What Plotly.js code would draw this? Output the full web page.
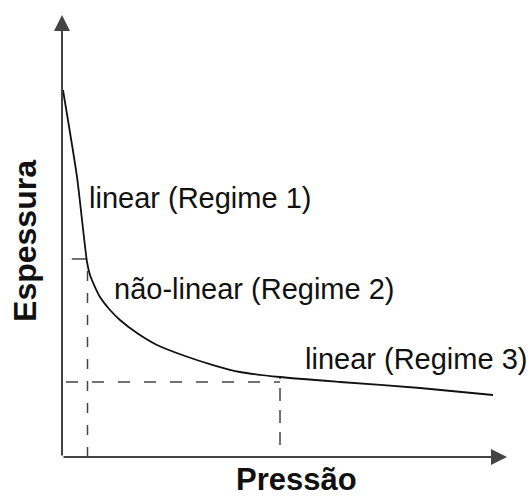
<!DOCTYPE html>
<html>
<head>
<meta charset="utf-8">
<script src="https://cdn.plot.ly/plotly-3.0.1.min.js"></script>
<style>html,body{margin:0;padding:0;background:#fff;}#chart{width:532px;height:496px;}</style>
</head>
<body>
<div id="chart"></div>
<script>
// Curve: pressure (x, 0-100) vs thickness (y, 0-100)
const pressao = [0.22, 3.37, 5.62, 6.29, 7.42, 8.54, 10.79, 13.03, 16.85, 21.35, 27.64, 33.93, 40.0, 48.99, 62.47, 80.45, 96.85];
const espessura = [83.03, 63.35, 44.12, 41.18, 38.46, 36.20, 33.26, 31.00, 28.05, 25.34, 22.85, 20.81, 19.23, 18.10, 16.97, 15.61, 14.03];

// Guide lines (transition points)
const guide1X = [5.73, 5.73];
const guide1Y = [0, 43];
const guide1hX = [2.2, 5.4];
const guide1hY = [44.8, 44.8];
const guide2X = [48.99, 48.99];
const guide2Y = [2.7, 17.9];
const guide2hX = [0.9, 48.99];
const guide2hY = [16.97, 16.97];

const regimeLabels = ["linear (Regime 1)", "não-linear (Regime 2)", "linear (Regime 3)"];
const regimeX = [5.6, 11.3, 54.1];
const regimeY = [58.6, 38.0, 22.2];

const xTitle = "Pressão";
const yTitle = "Espessura";

const dashCol = "#444";
const traces = [
  {x: guide1X, y: guide1Y, mode: "lines", line: {color: dashCol, width: 1.5, dash: "10px,12px"}, hoverinfo: "skip"},
  {x: guide1hX, y: guide1hY, mode: "lines", line: {color: dashCol, width: 1.5}, hoverinfo: "skip"},
  {x: guide2X, y: guide2Y, mode: "lines", line: {color: dashCol, width: 1.5, dash: "13px,9px"}, hoverinfo: "skip"},
  {x: guide2hX, y: guide2hY, mode: "lines", line: {color: dashCol, width: 1.5, dash: "12px,14px"}, hoverinfo: "skip"},
  {x: pressao, y: espessura, mode: "lines", line: {color: "#111", width: 1.8, shape: "spline", smoothing: 0.6}, hoverinfo: "skip"}
];

const font = {family: "Liberation Sans, Arial, sans-serif", color: "#111"};
const annotations = [];
regimeLabels.forEach((t, i) => {
  annotations.push({x: regimeX[i], y: regimeY[i], xref: "x", yref: "y", text: t, showarrow: false,
    xanchor: "left", yanchor: "middle", font: Object.assign({}, font, {size: 29})});
});
// axes with arrows
annotations.push({x: 0, y: 100, ax: 0, ay: 0, xref: "x", yref: "y", axref: "x", ayref: "y", text: "",
  showarrow: true, arrowhead: 2, arrowsize: 1.6, arrowwidth: 2, arrowcolor: "#444", standoff: 0, startstandoff: 0});
annotations.push({x: 100, y: 0, ax: 0, ay: 0, xref: "x", yref: "y", axref: "x", ayref: "y", text: "",
  showarrow: true, arrowhead: 2, arrowsize: 1.6, arrowwidth: 2, arrowcolor: "#444", standoff: 0, startstandoff: 0});
// axis titles
annotations.push({x: 0.526, y: -0.006, xref: "paper", yref: "paper", text: "<b>" + xTitle + "</b>", showarrow: false,
  xanchor: "center", yanchor: "top", font: Object.assign({}, font, {size: 31})});
annotations.push({x: -0.083, y: 0.489, xref: "paper", yref: "paper", text: "<b>" + yTitle + "</b>", showarrow: false,
  textangle: -90, xanchor: "center", yanchor: "middle", font: Object.assign({}, font, {size: 32})});

const layout = {
  width: 532, height: 496,
  margin: {l: 62, r: 25, t: 15, b: 39},
  paper_bgcolor: "#fff", plot_bgcolor: "#fff",
  showlegend: false,
  xaxis: {range: [0, 100], showgrid: false, zeroline: false, showline: false, showticklabels: false, ticks: "", fixedrange: true},
  yaxis: {range: [0, 100], showgrid: false, zeroline: false, showline: false, showticklabels: false, ticks: "", fixedrange: true},
  annotations: annotations
};
Plotly.newPlot("chart", traces, layout, {staticPlot: true, displayModeBar: false});
</script>
</body>
</html>
